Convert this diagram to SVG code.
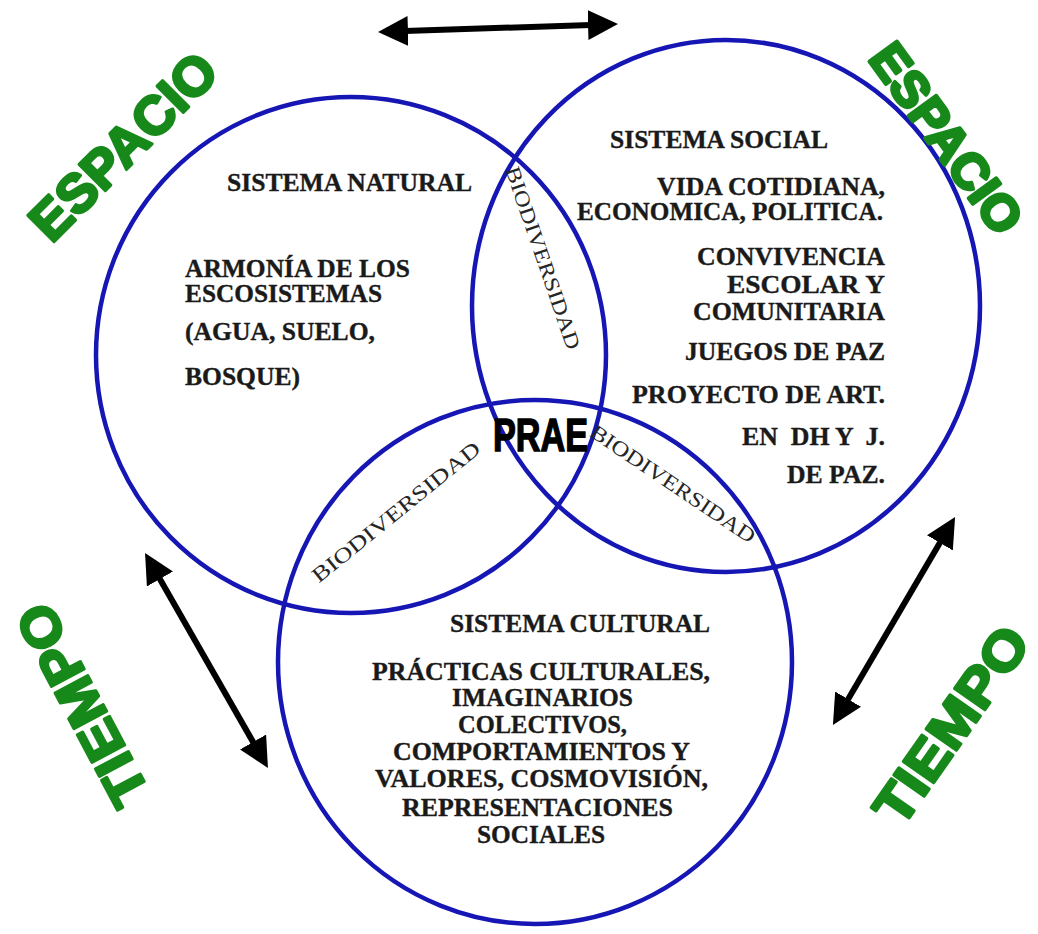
<svg xmlns="http://www.w3.org/2000/svg" width="1038" height="934" viewBox="0 0 1038 934">
<defs>
<style>
.circ{fill:none;stroke:#1616b4;stroke-width:4.5}
.t{font-family:"Liberation Serif","Times New Roman",serif;font-weight:bold;font-size:25px;fill:#1a1a1a;stroke:#1a1a1a;stroke-width:0.35}
.bio{font-family:"Liberation Serif","Times New Roman",serif;font-size:21px;fill:#262626}
.green{font-family:"Liberation Sans",Arial,sans-serif;font-weight:900;font-size:54px;fill:#17891a;stroke:#17891a;stroke-width:3;stroke-linejoin:round}
.prae{font-family:"Liberation Sans",Arial,sans-serif;font-weight:900;font-size:47px;fill:#000;stroke:#000;stroke-width:1.5}
.arr{stroke:#000;stroke-width:6;fill:none}
</style>
<marker id="ah" markerUnits="userSpaceOnUse" markerWidth="32" markerHeight="32" refX="18" refY="15" orient="auto-start-reverse" viewBox="0 0 32 32">
<path d="M0,0 L30,15 L0,30 z" fill="#000"/>
</marker>
</defs>
<rect width="1038" height="934" fill="#fff"/>

<g id="circle-natural">
<ellipse class="circ" cx="351" cy="355" rx="255" ry="258"/>
<text class="t" x="227" y="191" textLength="245" lengthAdjust="spacingAndGlyphs">SISTEMA NATURAL</text>
<text class="t" x="185" y="277" textLength="225" lengthAdjust="spacingAndGlyphs">ARMONÍA DE LOS</text>
<text class="t" x="185" y="302" textLength="197" lengthAdjust="spacingAndGlyphs">ESCOSISTEMAS</text>
<text class="t" x="185" y="340" textLength="190" lengthAdjust="spacingAndGlyphs">(AGUA, SUELO,</text>
<text class="t" x="185" y="385" textLength="115" lengthAdjust="spacingAndGlyphs">BOSQUE)</text>
</g>

<g id="circle-social">
<ellipse class="circ" cx="726" cy="306" rx="254" ry="266"/>
<text class="t" x="610" y="148" textLength="218" lengthAdjust="spacingAndGlyphs">SISTEMA SOCIAL</text>
<text class="t" x="657" y="195" textLength="228" lengthAdjust="spacingAndGlyphs">VIDA COTIDIANA,</text>
<text class="t" x="577" y="220" textLength="306" lengthAdjust="spacingAndGlyphs">ECONOMICA, POLITICA.</text>
<text class="t" x="697" y="265" textLength="188" lengthAdjust="spacingAndGlyphs">CONVIVENCIA</text>
<text class="t" x="727" y="293" textLength="158" lengthAdjust="spacingAndGlyphs">ESCOLAR Y</text>
<text class="t" x="693" y="320" textLength="192" lengthAdjust="spacingAndGlyphs">COMUNITARIA</text>
<text class="t" x="685" y="360" textLength="200" lengthAdjust="spacingAndGlyphs">JUEGOS DE PAZ</text>
<text class="t" x="632" y="403" textLength="253" lengthAdjust="spacingAndGlyphs">PROYECTO DE ART.</text>
<text class="t" x="742" y="445" textLength="143" lengthAdjust="spacingAndGlyphs" xml:space="preserve">EN  DH Y  J.</text>
<text class="t" x="787" y="483" textLength="98" lengthAdjust="spacingAndGlyphs">DE PAZ.</text>
</g>

<g id="circle-cultural">
<ellipse class="circ" cx="535" cy="662" rx="257" ry="262"/>
<text class="t" x="450" y="632" textLength="260" lengthAdjust="spacingAndGlyphs">SISTEMA CULTURAL</text>
<text class="t" x="372" y="680" textLength="338" lengthAdjust="spacingAndGlyphs">PRÁCTICAS CULTURALES,</text>
<text class="t" x="452" y="706" textLength="181" lengthAdjust="spacingAndGlyphs">IMAGINARIOS</text>
<text class="t" x="458" y="733" textLength="169" lengthAdjust="spacingAndGlyphs">COLECTIVOS,</text>
<text class="t" x="393" y="760" textLength="297" lengthAdjust="spacingAndGlyphs">COMPORTAMIENTOS Y</text>
<text class="t" x="375" y="787" textLength="333" lengthAdjust="spacingAndGlyphs">VALORES, COSMOVISIÓN,</text>
<text class="t" x="402" y="816" textLength="271" lengthAdjust="spacingAndGlyphs">REPRESENTACIONES</text>
<text class="t" x="477" y="843" textLength="128" lengthAdjust="spacingAndGlyphs">SOCIALES</text>
</g>

<g id="biodiversidad-top">
<text class="bio" transform="translate(543,258) rotate(71)" x="0" y="7" text-anchor="middle" textLength="192" lengthAdjust="spacingAndGlyphs">BIODIVERSIDAD</text>
</g>
<g id="biodiversidad-right">
<text class="bio" transform="translate(673,484) rotate(34)" x="0" y="7" text-anchor="middle" textLength="194" lengthAdjust="spacingAndGlyphs">BIODIVERSIDAD</text>
</g>
<g id="biodiversidad-left">
<text class="bio" transform="translate(396,512) rotate(-39)" x="0" y="7" text-anchor="middle" textLength="210" lengthAdjust="spacingAndGlyphs">BIODIVERSIDAD</text>
</g>

<g id="prae">
<text class="prae" x="493" y="451" textLength="95" lengthAdjust="spacingAndGlyphs">PRAE</text>
</g>

<g id="espacio-left">
<text class="green" transform="translate(123,146) rotate(-45)" x="0" y="19" text-anchor="middle" textLength="240" lengthAdjust="spacingAndGlyphs">ESPACIO</text>
</g>
<g id="espacio-right">
<text class="green" style="font-size:50px;stroke-width:3.5" transform="translate(947,138) rotate(54)" x="0" y="18" text-anchor="middle" textLength="222" lengthAdjust="spacingAndGlyphs">ESPACIO</text>
</g>
<g id="tiempo-left">
<text class="green" transform="translate(82,705) rotate(-118)" x="0" y="19" text-anchor="middle" textLength="220" lengthAdjust="spacingAndGlyphs">TIEMPO</text>
</g>
<g id="tiempo-right">
<text class="green" transform="translate(951,725) rotate(-55)" x="0" y="19" text-anchor="middle" textLength="228" lengthAdjust="spacingAndGlyphs">TIEMPO</text>
</g>

<g id="connectors">
<line class="arr" x1="390" y1="31.6" x2="606" y2="24.4" marker-start="url(#ah)" marker-end="url(#ah)"/>
<line class="arr" x1="151" y1="563.4" x2="262" y2="757.6" marker-start="url(#ah)" marker-end="url(#ah)"/>
<line class="arr" x1="949" y1="527.3" x2="839" y2="714.7" marker-start="url(#ah)" marker-end="url(#ah)"/>
</g>
</svg>
